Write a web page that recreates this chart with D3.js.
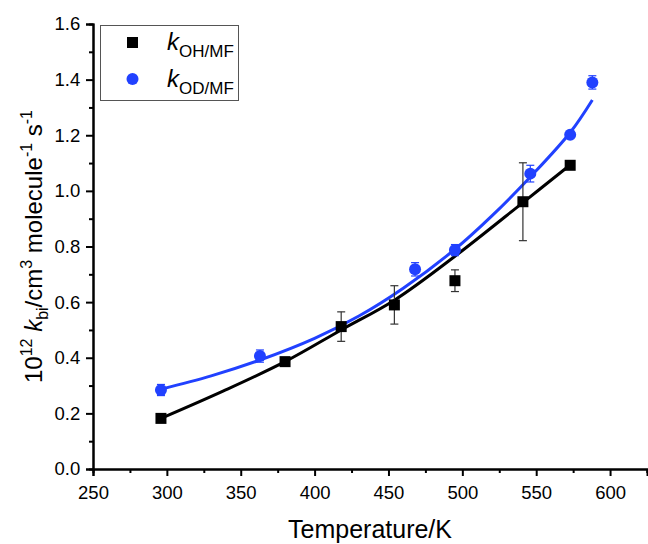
<!DOCTYPE html>
<html>
<head>
<meta charset="utf-8">
<script src="https://cdn.jsdelivr.net/npm/d3@7"></script>
<style>
  body { margin: 0; background: #fff; }
  svg { font-family: "Liberation Sans", Arial, sans-serif; }
</style>
</head>
<body>
<script>
// measured points, k(OH + MF)
var ohTemp  = [296, 380, 418, 454, 495, 541, 573];
var ohK     = [0.182, 0.386, 0.512, 0.590, 0.677, 0.961, 1.092];
var ohErr   = [0, 0, 0.053, 0.069, 0.039, 0.140, 0];

// measured points, k(OD + MF)
var odTemp  = [296, 363, 468, 495, 546, 573, 588];
var odK     = [0.284, 0.406, 0.718, 0.787, 1.062, 1.202, 1.390];
var odErr   = [0.020, 0.022, 0.024, 0.020, 0.030, 0.010, 0.024];

// fitted curves
var ohFitT  = [296, 338, 380, 418, 454, 495, 541, 571];
var ohFitK  = [0.182, 0.280, 0.386, 0.500, 0.607, 0.765, 0.958, 1.085];
var odFitT  = [296, 330, 363, 400, 430, 460, 495, 520, 546, 573, 588];
var odFitK  = [0.287, 0.335, 0.392, 0.470, 0.550, 0.650, 0.790, 0.910, 1.050, 1.210, 1.327];

var xTicks  = [250, 300, 350, 400, 450, 500, 550, 600];
var yTicks  = [0.0, 0.2, 0.4, 0.6, 0.8, 1.0, 1.2, 1.4, 1.6];

var W = 648, H = 544;
var blue = "#2141ff";

var svg = d3.select("body").append("svg")
    .attr("width", W).attr("height", H);

var x = d3.scaleLinear().domain([250, 625]).range([93, 647]);
var y = d3.scaleLinear().domain([0, 1.6]).range([469, 24]);

// axes (major + minor ticks, outward)
var xAxis = svg.append("g").attr("transform", "translate(0," + y(0) + ")");
xAxis.call(d3.axisBottom(x).tickValues(d3.range(275, 650, 50)).tickSize(4).tickFormat(""));
xAxis.call(g => g.append("g").call(d3.axisBottom(x).tickValues(xTicks).tickSize(7).tickFormat(d3.format("d"))));
var yAxis = svg.append("g").attr("transform", "translate(" + x(250) + ",0)");
yAxis.call(d3.axisLeft(y).tickValues(d3.range(0.1, 1.6, 0.2)).tickSize(4).tickFormat(""));
yAxis.call(g => g.append("g").call(d3.axisLeft(y).tickValues(yTicks).tickSize(7).tickFormat(d3.format(".1f"))));

svg.selectAll(".domain").attr("stroke", "#000").attr("stroke-width", 2);
svg.selectAll(".tick line").attr("stroke", "#000").attr("stroke-width", 2);
svg.selectAll(".tick text").attr("font-size", 18.5).attr("fill", "#000")
    .attr("font-family", "Liberation Sans, Arial, sans-serif");
xAxis.selectAll(".tick text").attr("dy", "1.1em");
yAxis.selectAll(".tick text").attr("dx", "-0.15em");

// axis labels
svg.append("text")
    .attr("x", (x(250) + x(625)) / 2).attr("y", 538)
    .attr("text-anchor", "middle").attr("font-size", 25)
    .text("Temperature/K");

var yl = svg.append("text")
    .attr("transform", "translate(42," + (y(0) + y(1.6)) / 2 + ") rotate(-90)")
    .attr("text-anchor", "middle").attr("font-size", 24);
yl.append("tspan").text("10");
yl.append("tspan").attr("font-size", 16).attr("dy", -10).text("12");
yl.append("tspan").attr("dy", 10).text(" ");
yl.append("tspan").attr("font-style", "italic").text("k");
yl.append("tspan").attr("font-size", 16).attr("dy", 6).text("bi");
yl.append("tspan").attr("dy", -6).text("/cm");
yl.append("tspan").attr("font-size", 16).attr("dy", -10).text("3");
yl.append("tspan").attr("dy", 10).text(" molecule");
yl.append("tspan").attr("font-size", 16).attr("dy", -10).text("-1");
yl.append("tspan").attr("dy", 10).text(" s");
yl.append("tspan").attr("font-size", 16).attr("dy", -10).text("-1");

// fit curves
var line = d3.line().x(d => x(d[0])).y(d => y(d[1])).curve(d3.curveCatmullRom.alpha(0.5));
svg.append("path").datum(d3.zip(ohFitT, ohFitK))
    .attr("d", line).attr("fill", "none").attr("stroke", "#000").attr("stroke-width", 3);
svg.append("path").datum(d3.zip(odFitT, odFitK))
    .attr("d", line).attr("fill", "none").attr("stroke", blue).attr("stroke-width", 3);

// error bars
function errbars(T, K, E, col) {
    var g = svg.append("g").attr("stroke", col).attr("stroke-width", 1.2);
    T.forEach(function(t, i) {
        if (!E[i]) return;
        var cx = x(t), y0 = y(K[i] - E[i]), y1 = y(K[i] + E[i]);
        g.append("line").attr("x1", cx).attr("x2", cx).attr("y1", y0).attr("y2", y1);
        g.append("line").attr("x1", cx - 4).attr("x2", cx + 4).attr("y1", y0).attr("y2", y0);
        g.append("line").attr("x1", cx - 4).attr("x2", cx + 4).attr("y1", y1).attr("y2", y1);
    });
}
errbars(ohTemp, ohK, ohErr, "#333");
errbars(odTemp, odK, odErr, blue);

// markers
svg.append("g").selectAll("rect").data(d3.zip(ohTemp, ohK)).join("rect")
    .attr("x", d => x(d[0]) - 5.5).attr("y", d => y(d[1]) - 5.5)
    .attr("width", 11).attr("height", 11).attr("fill", "#000");
svg.append("g").selectAll("circle").data(d3.zip(odTemp, odK)).join("circle")
    .attr("cx", d => x(d[0])).attr("cy", d => y(d[1])).attr("r", 6).attr("fill", blue);

// legend
var lg = svg.append("g");
lg.append("rect").attr("x", 100.5).attr("y", 25.5).attr("width", 138).attr("height", 75)
    .attr("fill", "#fff").attr("stroke", "#555").attr("stroke-width", 1);
lg.append("rect").attr("x", 127).attr("y", 37).attr("width", 11).attr("height", 11).attr("fill", "#000");
lg.append("circle").attr("cx", 132.5).attr("cy", 79).attr("r", 6).attr("fill", blue);
[["OH/MF", 50], ["OD/MF", 87]].forEach(function(r) {
    var t = lg.append("text").attr("x", 167).attr("y", r[1]).attr("font-size", 24);
    t.append("tspan").attr("font-style", "italic").text("k");
    t.append("tspan").attr("font-size", 17).attr("dy", 7).text(r[0]);
});
</script>
</body>
</html>
